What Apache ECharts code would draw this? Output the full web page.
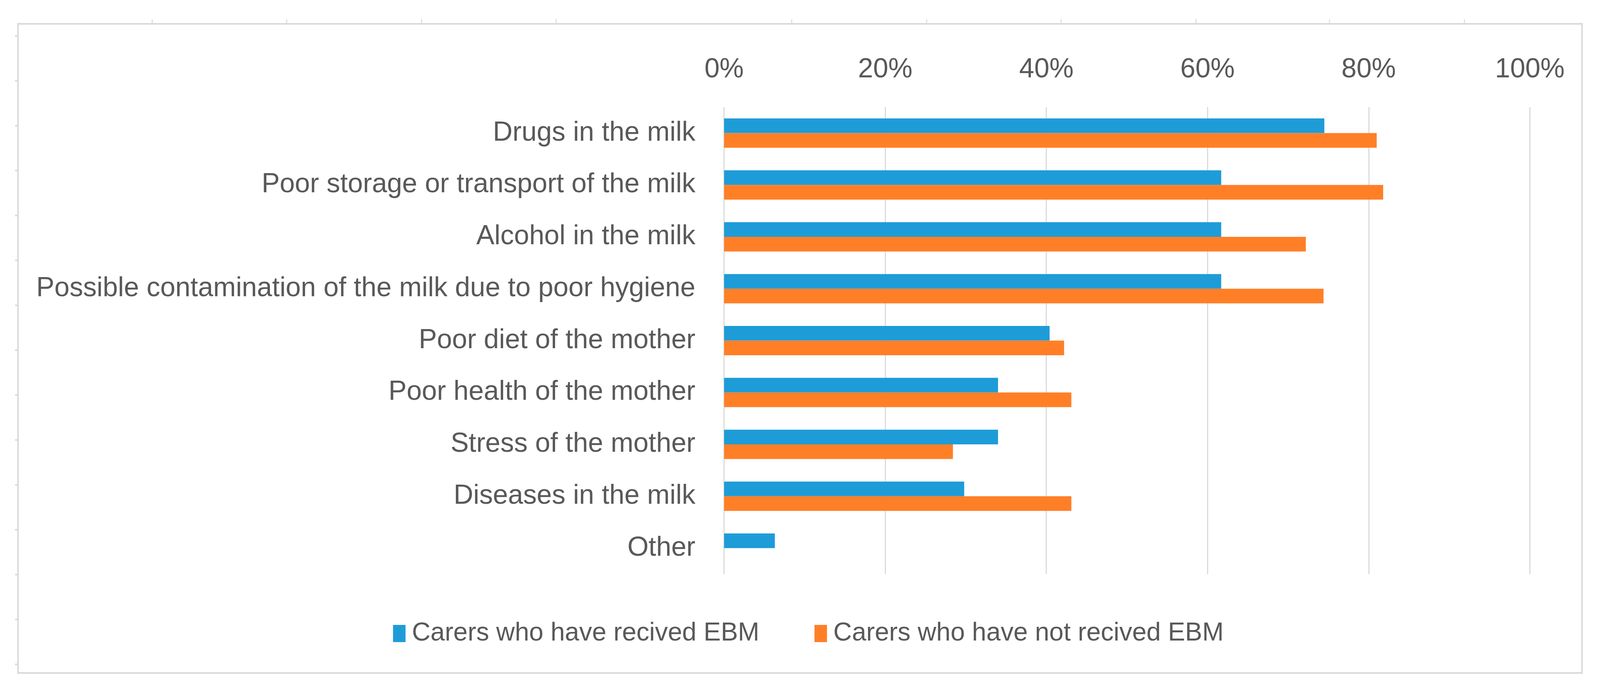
<!DOCTYPE html>
<html>
<head>
<meta charset="utf-8">
<script src="https://cdn.jsdelivr.net/npm/echarts@6/dist/echarts.min.js"></script>
<style>
html,body{margin:0;padding:0;background:#fff;overflow:hidden;}
#chart{position:absolute;left:0;top:0;}
</style>
</head>
<body>
<div id="chart"></div>
<script>
var categories = [
  "Drugs in the milk",
  "Poor storage or transport of the milk",
  "Alcohol in the milk",
  "Possible contamination of the milk due to poor hygiene",
  "Poor diet of the mother",
  "Poor health of the mother",
  "Stress of the mother",
  "Diseases in the milk",
  "Other"
];
var seriesNames = ["Carers who have recived EBM", "Carers who have not recived EBM"];
var receivedEBM = [74.5, 61.7, 61.7, 61.7, 40.4, 34.0, 34.0, 29.8, 6.3];
var notReceivedEBM = [81.0, 81.8, 72.2, 74.4, 42.2, 43.1, 28.4, 43.1, 0];
var xTicks = [0, 20, 40, 60, 80, 100];

var FONT = "'Liberation Sans', Arial, sans-serif";
var TXT = '#595959';
var GRIDC = '#d9d9d9';

// map design units (4353 x 1763) onto the actual viewport
var W = window.innerWidth || 4353, H = window.innerHeight || 1763;
var sx = W / 4353, sy = H / 1763;
function px(v) { return v * sx; }
function py(v) { return v * sy; }
var el = document.getElementById('chart');
el.style.width = W + 'px';
el.style.height = H + 'px';

// decorative frame and spreadsheet tick marks
var topTickX = [414, 780, 1147, 1513, 2154, 2521, 2887, 3254, 3617, 3984];
var graphics = [{
  type: 'rect', silent: true,
  shape: {x: px(49), y: py(61), width: px(4255), height: py(1661)},
  style: {fill: 'none', stroke: GRIDC, lineWidth: px(4)}
}];
topTickX.forEach(function (x) {
  graphics.push({type: 'line', silent: true, shape: {x1: px(x), y1: py(49), x2: px(x), y2: py(59)},
    style: {stroke: '#d0d0d0', lineWidth: px(2)}});
});
for (var k = 0; k < 15; k++) {
  var y = 92 + 114.86 * k;
  graphics.push({type: 'line', silent: true, shape: {x1: px(41), y1: py(y), x2: px(47), y2: py(y)},
    style: {stroke: '#d9d9d9', lineWidth: py(4)}});
}

var FS = px(74);
var chart = echarts.init(el, null, {renderer: 'canvas'});
chart.setOption({
  animation: false,
  backgroundColor: '#ffffff',
  graphic: graphics,
  grid: {left: px(1970), width: px(2192), top: py(274), height: py(1195), containLabel: false},
  legend: {
    data: seriesNames,
    left: px(1064), top: py(1583),
    itemWidth: px(34), itemHeight: py(44), itemGap: px(150),
    icon: 'rect',
    textStyle: {fontFamily: FONT, fontSize: px(70), color: TXT, padding: [0, 0, 0, px(12)]}
  },
  xAxis: {
    type: 'value', position: 'top',
    min: 0, max: 100, interval: 20,
    axisLine: {show: false}, axisTick: {show: false},
    splitLine: {show: true, lineStyle: {color: GRIDC, width: px(3)}},
    axisLabel: {
      fontFamily: FONT, fontSize: FS, color: TXT, margin: py(60),
      formatter: function (v) { return xTicks.indexOf(v) >= 0 ? v + '%' : ''; }
    }
  },
  yAxis: {
    type: 'category', data: categories, inverse: true,
    axisLine: {show: false}, axisTick: {show: false},
    axisLabel: {fontFamily: FONT, fontSize: FS, color: TXT, margin: px(78)}
  },
  series: [
    {name: seriesNames[0], type: 'bar', data: receivedEBM, barWidth: py(37.5), barGap: '0%',
     itemStyle: {color: '#1E9CD8'}},
    {name: seriesNames[1], type: 'bar', data: notReceivedEBM, barWidth: py(37.5), barGap: '0%',
     itemStyle: {color: '#FF7F27'}}
  ]
});
</script>
</body>
</html>
